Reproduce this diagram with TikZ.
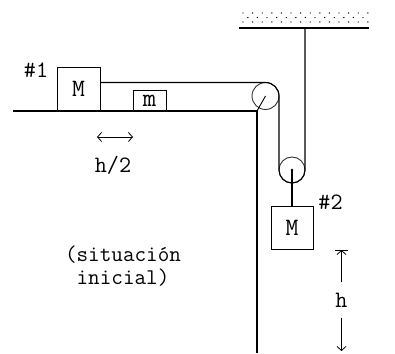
\documentclass[tikz,border=0pt]{standalone}
\usepackage{fontspec}
\usetikzlibrary{arrows.meta,positioning,calc}

\begin{document}
\begin{tikzpicture}[x=1pt,y=1pt,line width=1.1pt,
     >={Straight Barb[length=4pt,width=9pt]},
     mass/.style={draw, line width=0.9pt, inner sep=0pt, outer sep=0pt},
     pulley/.style={draw, circle, line width=0.9pt, draw=black!80, inner sep=0pt, outer sep=0pt},
     lbl/.style={font=\ttfamily\fontsize{23.5}{20}\selectfont}]
  \useasboundingbox (0,0) rectangle (395,353);
  % table and wall
  \coordinate (tl) at (13,242);
  \coordinate (corner) at (257,242);
  \coordinate (floor) at (257,0);
  \draw (tl) -- (corner) -- (floor);
  % ceiling
  \node[minimum width=130pt, minimum height=17pt, inner sep=0pt, outer sep=0pt] (ceil) at (304,333.5) {};
  \foreach \i in {0,...,13} \fill (243+\i*9.6,340) circle (0.7pt);
  \foreach \i in {0,...,12} \fill (247.8+\i*9.6,335.5) circle (0.7pt);
  \foreach \i in {0,...,13} \fill (243+\i*9.6,331) circle (0.7pt);
  \draw[line width=1.3pt] (ceil.south west) -- (ceil.south east);
  % masses and pulleys
  \node[mass, minimum width=43pt, minimum height=44pt, font=\ttfamily\fontsize{25}{25}\selectfont] (M1) at (78.5,264) {M};
  \node[mass, minimum width=33pt, minimum height=21pt, font=\ttfamily\fontsize{26}{26}\selectfont] (m) at (149.5,252.5) {m};
  \node[pulley, minimum size=27pt] (p1) at (265.5,257) {};
  \node[pulley, minimum size=26pt] (p2) at (292,183) {};
  \node[mass, minimum width=42pt, minimum height=43pt, font=\ttfamily\fontsize{25}{25}\selectfont] (M2) at (292,125.5) {M};
  % string
  \draw (M1.east |- p1.north) -- (p1.north) arc[start angle=90, end angle=0, radius=13.5]
     -- (p2.west) arc[start angle=180, end angle=360, radius=13] -- (p2.east |- ceil.south);
  \draw[line width=0.9pt] (p1.center) -- (corner);
  \fill (p2.center) circle (1.3pt);
  \draw (p2.center) -- (M2.north);
  % labels
  \node[lbl] (n1) at (36,283) {\#1};
  \node[lbl] (n2) at (330.5,150.5) {\#2};
  \coordinate (ha) at (97,216);
  \coordinate (hb) at (133,216);
  \draw[<->, line width=0.8pt] (ha) -- (hb);
  \node[lbl] (hh) at (113,187.5) {h/2};
  \node[lbl, align=center, font=\ttfamily\fontsize{22.5}{23}\selectfont] (sit) at (123,87) {(situación\\inicial)};
  \node[lbl, minimum height=34pt] (h) at (341.5,53) {h};
  \coordinate (htop) at (341.5,103);
  \coordinate (hbot) at (341.5,2);
  \draw[->, line width=0.8pt] (h) -- (htop);
  \draw[->, line width=0.8pt] (h) -- (hbot);
  \draw[line width=0.8pt] (htop) +(-6.5,0) -- +(6.5,0);
\end{tikzpicture}
\end{document}
